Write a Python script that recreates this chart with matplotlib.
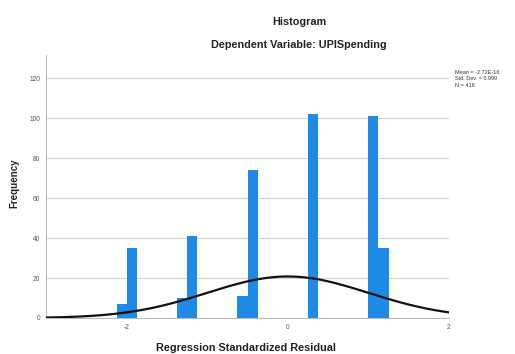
import numpy as np
import matplotlib.pyplot as plt

plt.rcParams['font.family'] = ['Liberation Sans', 'DejaVu Sans']
plt.rcParams['axes.unicode_minus'] = False

# residual histogram, bin width 0.125
bin_left = [-2.125, -2.0, -1.375, -1.25, -0.625, -0.5, 0.25, 1.0, 1.125]
counts = [7, 35, 10, 41, 11, 74, 102, 101, 35]
bw = 0.125

mean = 0.0
sd = 0.999
n = 416
stats = ["Mean = -2.72E-16", "Std. Dev. = 0.999", "N = 416"]

fig = plt.figure(figsize=(5.15, 3.54), dpi=100)
ax = fig.add_axes([0.0893, 0.1017, 0.7826, 0.7428])

ax.bar(bin_left, counts, width=bw, align='edge', color='#1e8ae6', lw=0, zorder=2)

xs = np.linspace(-3, 2, 300)
ys = n * bw * np.exp(-0.5 * ((xs - mean) / sd) ** 2) / (sd * np.sqrt(2 * np.pi))
ax.plot(xs, ys, color='#111111', lw=1.6, zorder=3)

ax.set_xlim(-3, 2)
ax.set_ylim(0, 131.5)
ax.set_xticks([-2, 0, 2])
ax.set_yticks(range(0, 121, 20))
ax.grid(axis='y', color='#d4d4d4', lw=0.8, zorder=0)
ax.tick_params(labelsize=4.8, colors='#555555', length=0, pad=4)
for s in ['top', 'right']:
    ax.spines[s].set_visible(False)
for s in ['left', 'bottom']:
    ax.spines[s].set_color('#bbbbbb')
    ax.spines[s].set_linewidth(0.8)

fig.text(0.581, 0.938, "Histogram", ha='center', va='center', fontsize=7.8, fontweight='bold', color='#222222')
fig.text(0.581, 0.873, "Dependent Variable: UPISpending", ha='center', va='center', fontsize=7.8, fontweight='bold', color='#222222')
fig.text(0.478, 0.017, "Regression Standardized Residual", ha='center', va='center', fontsize=7.8, fontweight='bold', color='#222222')
fig.text(0.027, 0.483, "Frequency", ha='center', va='center', rotation=90, fontsize=7, fontweight='bold', color='#222222')

for i, t in enumerate(stats):
    fig.text(0.883, 0.795 - i * 0.018, t, ha='left', va='center', fontsize=4, color='#333333')

fig.savefig('out.png', dpi=100)
